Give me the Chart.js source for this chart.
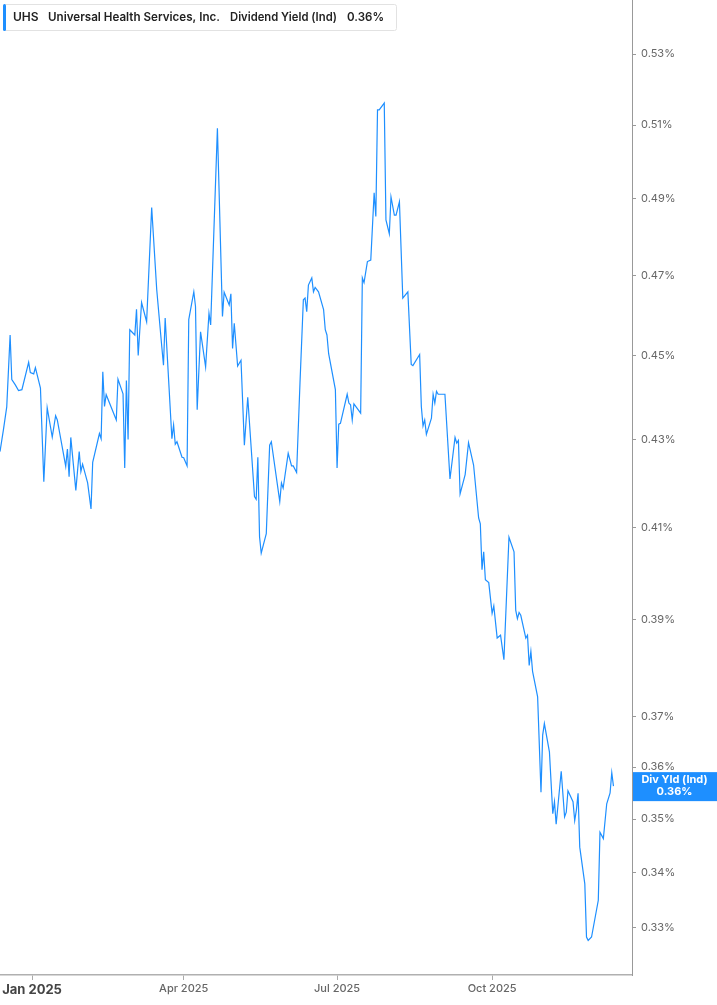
<!DOCTYPE html>
<html>
<head>
<meta charset="utf-8">
<script src="https://cdn.jsdelivr.net/npm/chart.js@4.4.1/dist/chart.umd.min.js"></script>
<style>
  html, body { margin: 0; padding: 0; background: #fff; }
  #wrap { position: relative; width: 717px; height: 1005px; }
</style>
</head>
<body>
<div id="wrap"><canvas id="yieldChart"></canvas></div>
<script>
// days counted from 1 Jan 2025, yield in percent
const days = [
  -19, -17, -15, -13, -12, -10, -8, -6, -2, -1,
  1, 2, 5, 7, 9, 12, 14, 15, 20, 21,
  22, 23, 26, 28, 29, 30, 33, 35, 36, 40,
  41, 42, 43, 44, 50, 51, 54, 55, 56, 57,
  58, 61, 62, 63, 65, 68, 71, 74, 77, 78,
  79, 83, 84, 85, 86, 89, 90, 92, 93, 96,
  97, 98, 100, 103, 105, 106, 110, 113, 114, 117,
  118, 119, 120, 122, 124, 126, 128, 132, 133, 134,
  135, 136, 139, 141, 142, 147, 148, 149, 152, 154,
  155, 157, 159, 161, 162, 163, 164, 166, 167, 168,
  170, 173, 174, 175, 176, 180, 181, 182, 183, 187,
  188, 189, 190, 191, 195, 196, 197, 199, 201, 203,
  204, 205, 206, 209, 210, 212, 213, 215, 216, 218,
  220, 223, 225, 226, 230, 231, 232, 233, 234, 237,
  238, 239, 240, 241, 245, 248, 251, 252, 253, 254,
  257, 259, 262, 265, 266, 267, 268, 269, 271, 273,
  274, 276, 278, 280, 283, 286, 287, 288, 289, 290,
  293, 294, 295, 296, 297, 300, 302, 303, 304, 307,
  309, 310, 311, 314, 316, 317, 318, 321, 322, 323,
  324, 325, 328, 329, 330, 332, 336, 337, 339, 341,
  343, 344, 345
];
const yields = [
  0.4272, 0.4322, 0.4377, 0.4551, 0.4442, 0.4430, 0.4416, 0.4418, 0.4484, 0.4459,
  0.4456, 0.4471, 0.4422, 0.4203, 0.4375, 0.4306, 0.4356, 0.4346, 0.4238, 0.4278,
  0.4214, 0.4305, 0.4183, 0.4272, 0.4226, 0.4243, 0.4200, 0.4141, 0.4247, 0.4314,
  0.4302, 0.4461, 0.4378, 0.4406, 0.4346, 0.4443, 0.4408, 0.4234, 0.4440, 0.4300,
  0.4564, 0.4551, 0.4615, 0.4501, 0.4632, 0.4584, 0.4877, 0.4664, 0.4522, 0.4477,
  0.4593, 0.4302, 0.4334, 0.4289, 0.4295, 0.4259, 0.4258, 0.4239, 0.4589, 0.4659,
  0.4622, 0.4370, 0.4559, 0.4473, 0.4605, 0.4576, 0.5091, 0.4597, 0.4658, 0.4626,
  0.4654, 0.4518, 0.4580, 0.4475, 0.4489, 0.4287, 0.4400, 0.4169, 0.4163, 0.4259,
  0.4079, 0.4043, 0.4086, 0.4287, 0.4295, 0.4158, 0.4200, 0.4188, 0.4268, 0.4239,
  0.4239, 0.4224, 0.4434, 0.4639, 0.4643, 0.4609, 0.4676, 0.4694, 0.4659, 0.4670,
  0.4659, 0.4614, 0.4564, 0.4551, 0.4505, 0.4418, 0.4234, 0.4336, 0.4338, 0.4407,
  0.4386, 0.4382, 0.4346, 0.4384, 0.4362, 0.4694, 0.4682, 0.4736, 0.4740, 0.4916,
  0.4853, 0.5142, 0.5142, 0.5161, 0.4844, 0.4808, 0.4905, 0.4857, 0.4857, 0.4892,
  0.4643, 0.4659, 0.4479, 0.4476, 0.4503, 0.4378, 0.4332, 0.4346, 0.4312, 0.4350,
  0.4407, 0.4386, 0.4414, 0.4407, 0.4407, 0.4209, 0.4305, 0.4292, 0.4298, 0.4175,
  0.4219, 0.4293, 0.4241, 0.4121, 0.4108, 0.4007, 0.4046, 0.3985, 0.3979, 0.3913,
  0.3929, 0.3861, 0.3867, 0.3816, 0.4078, 0.4046, 0.3920, 0.3902, 0.3915, 0.3909,
  0.3861, 0.3867, 0.3804, 0.3833, 0.3792, 0.3740, 0.3551, 0.3663, 0.3686, 0.3630,
  0.3510, 0.3533, 0.3490, 0.3592, 0.3504, 0.3513, 0.3554, 0.3533, 0.3497, 0.3517,
  0.3549, 0.3447, 0.3379, 0.3283, 0.3277, 0.3283, 0.3349, 0.3475, 0.3463, 0.3529,
  0.3550, 0.3589, 0.3563
];

const xTickDays = [0, 90, 181, 273];
const xTickLabels = ['Jan 2025', 'Apr 2025', 'Jul 2025', 'Oct 2025'];
const yTicks = [0.33, 0.34, 0.35, 0.36, 0.37, 0.39, 0.41, 0.43, 0.45, 0.47, 0.49, 0.51, 0.53];

const headerParts = [
  { text: 'UHS', x: 13, w: 26 },
  { text: 'Universal Health Services, Inc.', x: 48, w: 172 },
  { text: 'Dividend Yield (Ind)', x: 230, w: 107 },
  { text: '0.36%', x: 347, w: 37 }
];
const badgeTitle = 'Div Yld (Ind)';
const badgeValue = '0.36%';

const blue = '#1e8fff';
const fontFamily = 'Inter, "Noto Sans", sans-serif';

// legend box in the top left corner
const headerPlugin = {
  id: 'header',
  afterDraw(chart) {
    const ctx = chart.ctx;
    ctx.save();
    ctx.fillStyle = '#fff';
    ctx.strokeStyle = '#e2e2e2';
    ctx.lineWidth = 1;
    ctx.beginPath();
    ctx.roundRect(3.5, 4.5, 393, 26, 2);
    ctx.fill();
    ctx.stroke();
    ctx.fillStyle = blue;
    ctx.beginPath();
    ctx.roundRect(3, 4, 3, 27, 1.5);
    ctx.fill();
    ctx.fillStyle = '#222';
    ctx.font = '600 12px ' + fontFamily;
    ctx.textBaseline = 'middle';
    headerParts.forEach(p => ctx.fillText(p.text, p.x, 17.5, p.w));
    ctx.restore();
  }
};

// blue box with the latest value on the right axis
const badgePlugin = {
  id: 'badge',
  afterDraw(chart) {
    const { ctx, chartArea, scales } = chart;
    const y = scales.y.getPixelForValue(yields[yields.length - 1]);
    const cx = (chartArea.right + chart.width) / 2;
    ctx.save();
    ctx.fillStyle = blue;
    ctx.fillRect(chartArea.right + 1, y - 14, chart.width - chartArea.right - 1, 29);
    ctx.fillStyle = '#fff';
    ctx.font = 'bold 11px ' + fontFamily;
    ctx.textAlign = 'center';
    ctx.textBaseline = 'middle';
    ctx.fillText(badgeTitle, cx, y - 6);
    ctx.fillText(badgeValue, cx, y + 6);
    ctx.restore();
  }
};

const ctx = document.getElementById('yieldChart').getContext('2d');
const yieldChart = new Chart(ctx, {
  type: 'line',
  data: {
    datasets: [{
      label: 'Dividend Yield (Ind)',
      data: days.map((d, i) => ({ x: d, y: yields[i] })),
      borderColor: blue,
      borderWidth: 1.2,
      pointRadius: 0,
      tension: 0,
      fill: false
    }]
  },
  options: {
    responsive: true,
    maintainAspectRatio: false,
    animation: false,
    layout: { padding: 0 },
    plugins: {
      legend: { display: false },
      tooltip: { enabled: false }
    },
    scales: {
      x: {
        type: 'linear',
        bounds: 'data',
        min: -19,
        max: 356,
        afterBuildTicks: s => { s.ticks = xTickDays.map(v => ({ value: v })); },
        afterFit: s => {
          s.height = 30;
          s.paddingLeft = 0;
          s.paddingRight = 0;
        },
        ticks: {
          autoSkip: false,
          maxRotation: 0,
          padding: 2,
          color: c => c.index === 0 ? '#444' : '#666',
          font: c => c.index === 0
            ? { family: fontFamily, size: 13, weight: 'bold' }
            : { family: fontFamily, size: 11, weight: '500' },
          callback: (v, i) => xTickLabels[i]
        },
        grid: { drawOnChartArea: false, tickLength: 5, color: '#aaa' },
        border: { color: '#b0b0b0', width: 1.5 }
      },
      y: {
        type: 'logarithmic',
        position: 'right',
        bounds: 'data',
        min: 0.3216,
        max: 0.5458,
        afterBuildTicks: s => { s.ticks = yTicks.map(v => ({ value: v })); },
        afterFit: s => {
          s.width = 85;
          s.paddingTop = 0;
          s.paddingBottom = 0;
        },
        ticks: {
          autoSkip: false,
          padding: 5,
          color: '#666',
          font: { family: fontFamily, size: 11 },
          callback: v => v.toFixed(2) + '%'
        },
        grid: { drawOnChartArea: false, tickLength: 4, color: '#999' },
        border: { color: '#999', width: 1 }
      }
    }
  },
  plugins: [headerPlugin, badgePlugin]
});
</script>
</body>
</html>
